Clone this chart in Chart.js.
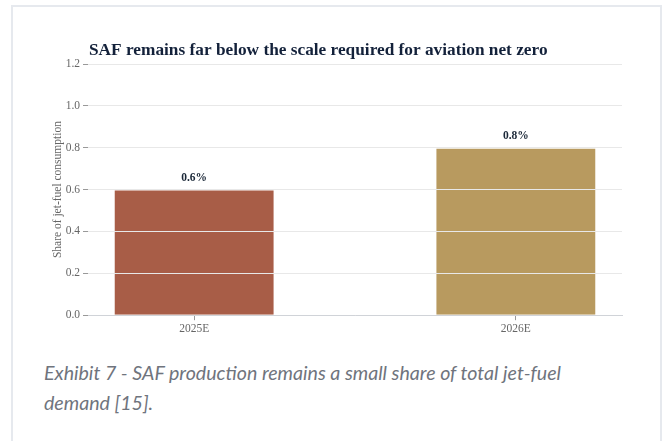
<!DOCTYPE html>
<html>
<head>
<meta charset="utf-8">
<script src="https://cdn.jsdelivr.net/npm/chart.js@4"></script>
<style>
  html, body { margin: 0; padding: 0; background: #fff; }
  body { width: 662px; height: 441px; position: relative; overflow: hidden; }
  .card { position: absolute; left: 11px; top: 5px; width: 647px; height: 460px; border: 2px solid #e6e9ee; }
  #wrap { position: absolute; left: 0; top: 0; width: 662px; height: 340px; }
  .caption { position: absolute; left: 44px; top: 358px; width: 570px; font: italic 19.6px/30px Lato, sans-serif; color: #6f747d; }
</style>
</head>
<body>
<div class="card"></div>
<div id="wrap"><canvas id="chart"></canvas></div>
<div class="caption">Exhibit 7 - SAF production remains a small share of total jet-fuel demand [15].</div>
<script>
const categories = ["2025E", "2026E"];
const shares = [0.6, 0.8];
const barColors = ["#a85d47", "#b89a5f"];
const yTicks = [0, 0.2, 0.4, 0.6, 0.8, 1.0, 1.2];
const chartTitle = "SAF remains far below the scale required for aviation net zero";

const serif = "'Liberation Serif', 'Times New Roman', serif";

// title sits flush with the plot's left edge
const titlePlugin = {
  id: "plotTitle",
  afterDraw(chart) {
    const ctx = chart.ctx;
    ctx.save();
    ctx.font = "bold 17.3px " + serif;
    ctx.fillStyle = "#13213a";
    ctx.textBaseline = "middle";
    ctx.fillText(chartTitle, chart.chartArea.left + 1, 51);
    ctx.restore();
  }
};

const valueLabels = {
  id: "valueLabels",
  afterDatasetsDraw(chart) {
    const ctx = chart.ctx;
    const meta = chart.getDatasetMeta(0);
    ctx.save();
    ctx.font = "bold 11.5px " + serif;
    ctx.fillStyle = "#1b2838";
    ctx.textAlign = "center";
    ctx.textBaseline = "middle";
    meta.data.forEach((bar, i) => {
      ctx.fillText(shares[i].toFixed(1) + "%", bar.x, bar.y - 12);
    });
    ctx.restore();
  }
};

new Chart(document.getElementById("chart"), {
  type: "bar",
  data: {
    datasets: [{
      data: shares.map((v, i) => ({ x: i, y: v })),
      backgroundColor: barColors,
      borderColor: "rgba(255,255,255,0.5)",
      borderWidth: 1,
      barPercentage: 0.5,
      categoryPercentage: 1
    }]
  },
  options: {
    responsive: true,
    maintainAspectRatio: false,
    animation: false,
    layout: { padding: { left: 51, right: 40, top: 64, bottom: 2 } },
    plugins: {
      legend: { display: false },
      tooltip: { enabled: false }
    },
    scales: {
      x: {
        type: "linear",
        min: -0.33,
        max: 1.33,
        offset: false,
        afterBuildTicks: (s) => { s.ticks = categories.map((c, i) => ({ value: i })); },
        ticks: {
          callback: (v) => categories[v],
          color: "#666",
          font: { family: serif, size: 11.5 },
          padding: 2
        },
        grid: { offset: false, drawOnChartArea: false, drawTicks: true, tickLength: 5, tickColor: "#999" },
        border: { display: true, color: "#d0d3d8", width: 1, z: 2 }
      },
      y: {
        min: 0,
        max: 1.2,
        afterBuildTicks: (s) => { s.ticks = yTicks.map((v) => ({ value: v })); },
        afterFit: (s) => { s.width = 37; },
        ticks: {
          callback: (v) => v.toFixed(1),
          color: "#666",
          font: { family: serif, size: 11.5 },
          padding: 3
        },
        grid: { color: "#e8e8e8", tickLength: 5, tickColor: "#999", lineWidth: 1, z: 1 },
        border: { display: false },
        title: {
          display: true,
          text: "Share of jet-fuel consumption",
          color: "#666",
          font: { family: serif, size: 11.5 },
          padding: { top: 0, bottom: 2 }
        }
      }
    }
  },
  plugins: [titlePlugin, valueLabels]
});
</script>
</body>
</html>
